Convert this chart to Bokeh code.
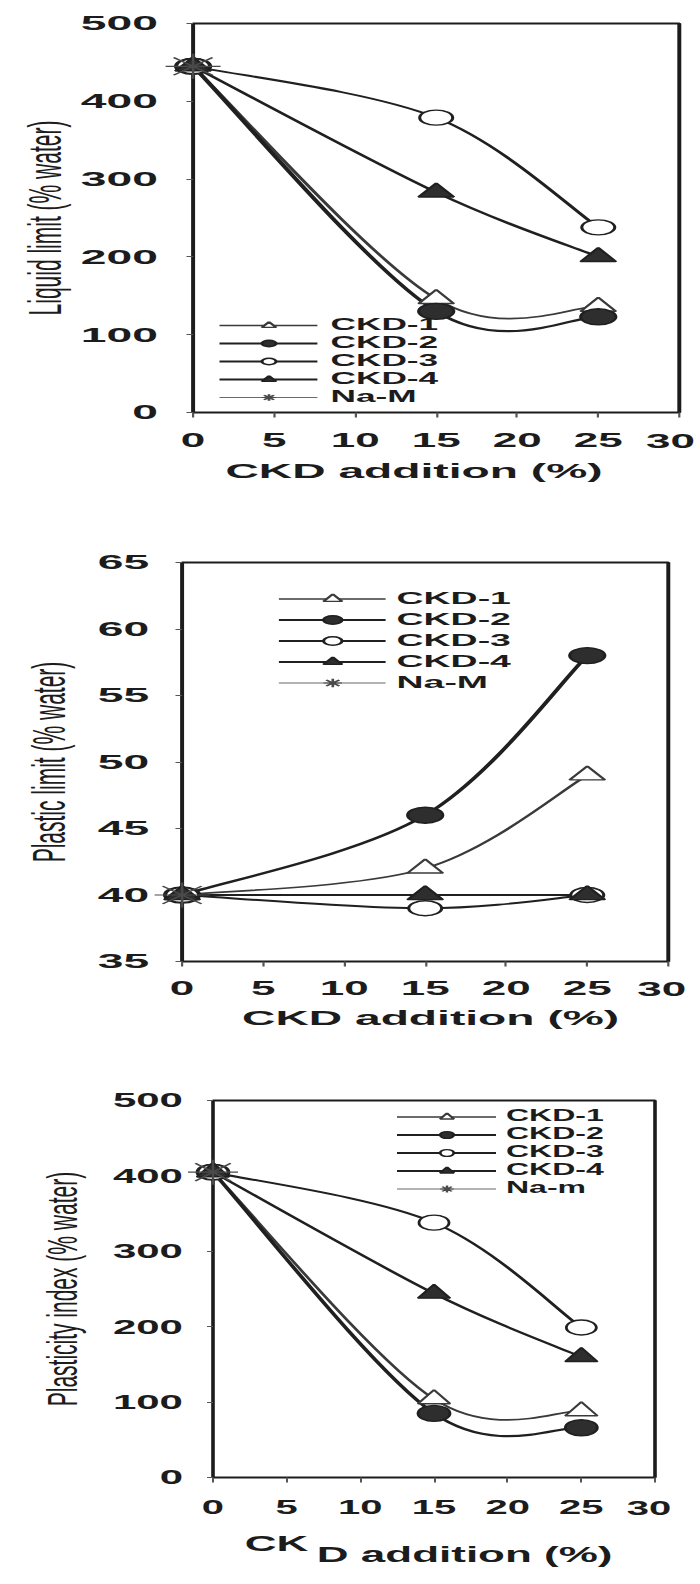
from bokeh.plotting import figure
from bokeh.layouts import column
from bokeh.models import (Legend, LegendItem, FixedTicker, Range1d, InlineStyleSheet)
from bokeh.core.properties import value
from bokeh.embed import file_html
from bokeh.resources import INLINE

# ---------------------------------------------------------------- data
ckd_pct = [0, 15, 25]                 # CKD addition (%)
series_names = ["CKD-1", "CKD-2", "CKD-3", "CKD-4"]

# Liquid limit (% water)
ll_ckd1 = [445, 146, 136]
ll_ckd2 = [445, 130, 123]
ll_ckd3 = [445, 379, 238]
ll_ckd4 = [445, 283, 200]
ll_nam = [445]

# Plastic limit (% water)
pl_ckd1 = [40, 42, 49]
pl_ckd2 = [40, 46, 58]
pl_ckd3 = [40, 39, 40]
pl_ckd4 = [40, 40, 40]
pl_nam = [40]

# Plasticity index (% water)
pi_ckd1 = [405, 104, 88]
pi_ckd2 = [405, 85, 66]
pi_ckd3 = [405, 338, 199]
pi_ckd4 = [405, 244, 160]
pi_nam = [405]

x_ticks = [0, 5, 10, 15, 20, 25, 30]
ll_ticks = [0, 100, 200, 300, 400, 500]
pl_ticks = [35, 40, 45, 50, 55, 60, 65]
pi_ticks = [0, 100, 200, 300, 400, 500]

FONT = "Liberation Sans"
INK = "#1c1c1c"

# marker / line look of each series
STYLE = {
    "CKD-1": dict(marker="triangle", size=16, fill="white", lc="#3a3a3a", lw=1.7),
    "CKD-2": dict(marker="circle", size=16, fill="#2e2e2e", lc="#202020", lw=2.2),
    "CKD-3": dict(marker="circle", size=15, fill="white", lc="#202020", lw=1.9),
    "CKD-4": dict(marker="triangle", size=16, fill="#2e2e2e", lc="#202020", lw=2.0),
}


def widen(shift, scale):
    """Stretch a panel's drawing surface sideways (wide, low-set figure)."""
    return InlineStyleSheet(css=":host > div { transform: translateX(%dpx) scaleX(%s);"
                                " transform-origin: 0 0; }" % (shift, scale))


def smooth_segments(xs, ys, t=1.0 / 6.0):
    """Cubic Bezier pieces (Catmull-Rom style) through the measured points."""
    n = len(xs)
    seg = {k: [] for k in ("x0", "y0", "x1", "y1", "cx0", "cy0", "cx1", "cy1")}
    for i in range(n - 1):
        ip = max(i - 1, 0)
        inx = min(i + 2, n - 1)
        seg["x0"].append(xs[i]); seg["y0"].append(ys[i])
        seg["x1"].append(xs[i + 1]); seg["y1"].append(ys[i + 1])
        seg["cx0"].append(xs[i] + (xs[i + 1] - xs[ip]) * t)
        seg["cy0"].append(ys[i] + (ys[i + 1] - ys[ip]) * t)
        seg["cx1"].append(xs[i + 1] - (xs[inx] - xs[i]) * t)
        seg["cy1"].append(ys[i + 1] - (ys[inx] - ys[i]) * t)
    return seg


def outside_text(p, x, y, text, size, align, baseline, dx=0, dy=0):
    """Text placed outside the frame (drawn on the overlay level, unclipped)."""
    r = p.text(x=[x], y=[y], text=[text], text_font=value(FONT),
               text_font_style="bold", text_font_size=size, text_color=INK,
               text_align=align, text_baseline=baseline, x_offset=dx, y_offset=dy)
    r.level = "overlay"
    return r


def make_panel(height, top, bottom, yrange, yticks, ylabel, series, nam, nam_label,
               ytick_standoff, ylabel_standoff, xtick_standoff, last_dx,
               legend_cfg, sheet):
    p = figure(width=325, height=height,
               x_range=Range1d(0, 30), y_range=Range1d(*yrange),
               output_backend="svg", toolbar_location=None,
               min_border_left=95, min_border_right=9,
               min_border_top=top, min_border_bottom=bottom,
               background_fill_color="white", border_fill_color="white",
               stylesheets=[sheet])
    p.grid.visible = False
    p.outline_line_color = INK
    p.outline_line_width = 1.8

    xa, ya = p.xaxis[0], p.yaxis[0]
    xa.ticker = FixedTicker(ticks=x_ticks)
    ya.ticker = FixedTicker(ticks=yticks)
    for ax in (xa, ya):
        ax.axis_line_color = None
        ax.major_tick_line_color = "#555555"
        ax.major_tick_line_width = 1
        ax.major_tick_in = 0
        ax.minor_tick_line_color = None
        ax.major_label_text_font = FONT
        ax.major_label_text_font_style = "bold"
        ax.major_label_text_color = INK
        ax.axis_label_text_font = FONT
        ax.axis_label_text_color = INK
    ya.major_label_text_font_size = "21px"
    xa.major_label_text_font_size = "20px"
    xa.major_tick_out = 5
    ya.major_tick_out = 3
    ya.major_label_standoff = ytick_standoff
    xa.major_label_standoff = xtick_standoff
    ya.axis_label = ylabel
    ya.axis_label_text_font_style = "normal"
    ya.axis_label_text_font_size = "21px"
    ya.axis_label_standoff = ylabel_standoff

    # the last x label is nudged inwards so it stays clear of the right edge
    last = x_ticks[-1]
    xa.major_label_overrides = {last: ""}
    outside_text(p, last, yrange[0], str(last), "20px", "center", "top",
                 dx=last_dx, dy=5 + xtick_standoff)

    items = []
    for name, ys in zip(series_names, series):
        st = STYLE[name]
        seg = smooth_segments(ckd_pct, ys)
        curve = p.bezier(x0=seg["x0"], y0=seg["y0"], x1=seg["x1"], y1=seg["y1"],
                         cx0=seg["cx0"], cy0=seg["cy0"], cx1=seg["cx1"], cy1=seg["cy1"],
                         line_color=st["lc"], line_width=st["lw"])
        dots = p.scatter(x=ckd_pct, y=ys, marker=st["marker"], size=st["size"],
                         fill_color=st["fill"], line_color=st["lc"], line_width=1.4)
        dots.level = "overlay"
        items.append(LegendItem(label=name, renderers=[curve, dots]))

    # untreated Na-montmorillonite: a single starting point
    nam_line = p.line(x=ckd_pct[:1], y=nam, line_color="#6a6a6a", line_width=1.0)
    nam_dot = p.scatter(x=ckd_pct[:1], y=nam, marker="asterisk", size=25,
                        line_color="#4a4a4a", line_width=1.2)
    nam_dot.level = "overlay"
    items.append(LegendItem(label=nam_label, renderers=[nam_line, nam_dot]))

    legend = Legend(items=items, orientation="vertical",
                    location=legend_cfg["loc"],
                    glyph_width=legend_cfg["gw"], glyph_height=legend_cfg["gh"],
                    label_height=legend_cfg["gh"], spacing=0,
                    label_standoff=legend_cfg["ls"], padding=0, margin=0,
                    border_line_color=None, background_fill_alpha=0,
                    label_text_font=FONT, label_text_font_style="bold",
                    label_text_font_size=legend_cfg["fs"],
                    label_text_line_height=0.8,
                    label_text_color=INK)
    p.add_layout(legend)
    return p


p1 = make_panel(520, 23, 108, (0, 500), ll_ticks, "Liquid limit (% water)",
                [ll_ckd1, ll_ckd2, ll_ckd3, ll_ckd4], ll_nam, "Na-M",
                ytick_standoff=13, ylabel_standoff=2, xtick_standoff=16, last_dx=-4,
                legend_cfg=dict(loc=(12, 6), gw=45, gh=16, ls=6, fs="16px"),
                sheet=widen(-17, 2.2))
outside_text(p1, 2.0, 0, "CKD addition (%)", "21px", "left", "middle", dy=58)

p2 = make_panel(540, 42, 99, (35, 65), pl_ticks, "Plastic limit (% water)",
                [pl_ckd1, pl_ckd2, pl_ckd3, pl_ckd4], pl_nam, "Na-M",
                ytick_standoff=12, ylabel_standoff=8, xtick_standoff=15, last_dx=-3,
                legend_cfg=dict(loc=(44, 268), gw=49, gh=21, ls=5, fs="17px"),
                sheet=widen(-28, 2.2))
outside_text(p2, 3.7, 35, "CKD addition (%)", "21px", "left", "middle", dy=56)

p3 = make_panel(520, 40, 103, (0, 500), pi_ticks, "Plasticity index (% water)",
                [pi_ckd1, pi_ckd2, pi_ckd3, pi_ckd4], pi_nam, "Na-m",
                ytick_standoff=12, ylabel_standoff=11, xtick_standoff=18, last_dx=-3,
                legend_cfg=dict(loc=(92, 280), gw=50, gh=17, ls=5, fs="16px"),
                sheet=widen(22, 2.0))
# the last panel's x title is set with its "CK" raised above the rest
outside_text(p3, 2.15, 0, "CK", "22px", "left", "middle", dy=66)
outside_text(p3, 7.05, 0, "D addition (%)", "22px", "left", "middle", dy=77)

page = column(p1, p2, p3, spacing=0)

open("out.html", "w").write(file_html(page, INLINE))
